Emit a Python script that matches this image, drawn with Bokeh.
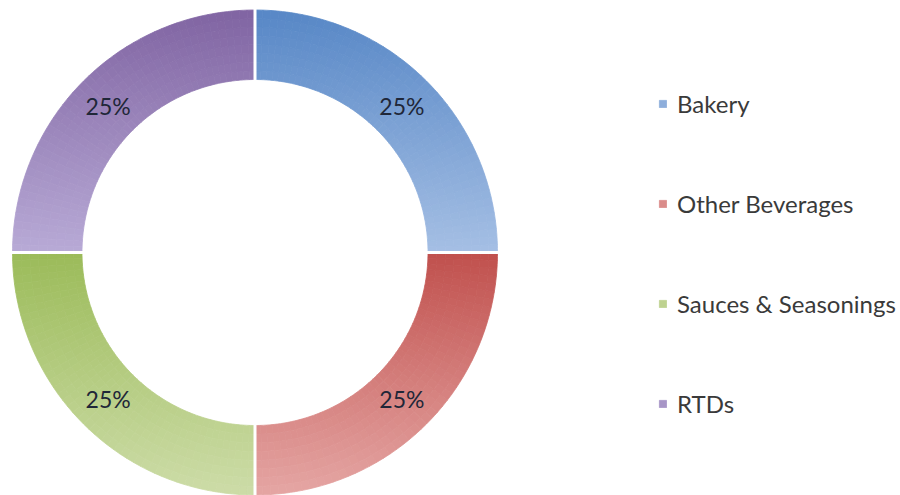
import numpy as np
from bokeh.plotting import figure
from bokeh.models import Range1d, Legend, LegendItem
from bokeh.embed import file_html
from bokeh.resources import INLINE

# ---- data ----
categories = ["Bakery", "Other Beverages", "Sauces & Seasonings", "RTDs"]
shares = [25, 25, 25, 25]
labels = ["25%", "25%", "25%", "25%"]
# gradient colour pairs (top of slice -> bottom of slice)
dark_colors = ["#5787c6", "#c0504d", "#9bbb59", "#8064a2"]
light_colors = ["#a5bfe4", "#e5a6a4", "#cddca8", "#b8aad6"]

R_OUT = 242.5
R_IN = 173.0


def hex2rgb(h):
    h = h.lstrip("#")
    return np.array([int(h[i:i + 2], 16) for i in (0, 2, 4)], dtype=float)


def mix(c1, c2, t):
    a, b = hex2rgb(c1), hex2rgb(c2)
    c = a + (b - a) * t
    return "#%02x%02x%02x" % tuple(int(round(v)) for v in c)


p = figure(width=900, height=495, output_backend="svg", toolbar_location=None,
           x_range=Range1d(-254.5, 645.5), y_range=Range1d(-243, 252),
           min_border=0, outline_line_color=None, background_fill_color="white",
           border_fill_color="white")
p.axis.visible = False
p.grid.visible = False

total = float(sum(shares))
start = np.pi / 2
n_ang, n_rad = 48, 8
legend_items = []
for i, (cat, v) in enumerate(zip(categories, shares)):
    span = 2 * np.pi * v / total
    a_hi = start
    a_lo = start - span  # clockwise
    angs = np.linspace(a_lo, a_hi, n_ang + 1)
    rads = np.linspace(R_IN, R_OUT, n_rad + 1)
    ys_probe = np.concatenate([R_OUT * np.sin(np.linspace(a_lo, a_hi, 200)),
                               R_IN * np.sin(np.linspace(a_lo, a_hi, 200))])
    ymax, ymin = ys_probe.max(), ys_probe.min()
    sa, ea, ir, orr, cols, ts = [], [], [], [], [], []
    for j in range(n_ang):
        for k in range(n_rad):
            ac = 0.5 * (angs[j] + angs[j + 1])
            rc = 0.5 * (rads[k] + rads[k + 1])
            y = rc * np.sin(ac)
            t = min(max((ymax - y) / (ymax - ymin), 0), 1)
            sa.append(angs[j]); ea.append(angs[j + 1])
            ir.append(rads[k]); orr.append(rads[k + 1])
            cols.append(mix(dark_colors[i], light_colors[i], t))
            ts.append(t)
    r = p.annular_wedge(x=0, y=0, inner_radius=ir, outer_radius=orr,
                        start_angle=sa, end_angle=ea, fill_color=cols,
                        line_color=cols, line_width=0.8)
    mid_idx = int(np.argmin(np.abs(np.array(ts) - 0.7)))
    legend_items.append(LegendItem(label=cat, renderers=[r], index=mid_idx))
    # label
    mid = 0.5 * (a_lo + a_hi)
    rm = 0.5 * (R_IN + R_OUT)
    p.text(x=[rm * np.cos(mid)], y=[rm * np.sin(mid)], text=[labels[i]],
           text_align="center", text_baseline="middle", text_font_size="23px",
           text_font={"value": "Lato"}, text_color="#1f2738")
    start = a_lo

# white gaps between slices
bounds = []
acc = np.pi / 2
for v in shares:
    bounds.append(acc)
    acc -= 2 * np.pi * v / total
p.ray(x=[0] * len(bounds), y=[0] * len(bounds), length=R_OUT + 5,
      angle=bounds, line_color="white", line_width=3)

legend = Legend(items=legend_items, location=(658, 77), orientation="vertical",
                glyph_width=9, glyph_height=9, label_standoff=10,
                label_height=30, spacing=70, padding=0, margin=0,
                border_line_color=None, background_fill_alpha=0,
                label_text_font="Lato", label_text_font_size="24px",
                label_text_color="#3a3a3a")
p.add_layout(legend, "center")

open("out.html", "w").write(file_html(p, INLINE))
